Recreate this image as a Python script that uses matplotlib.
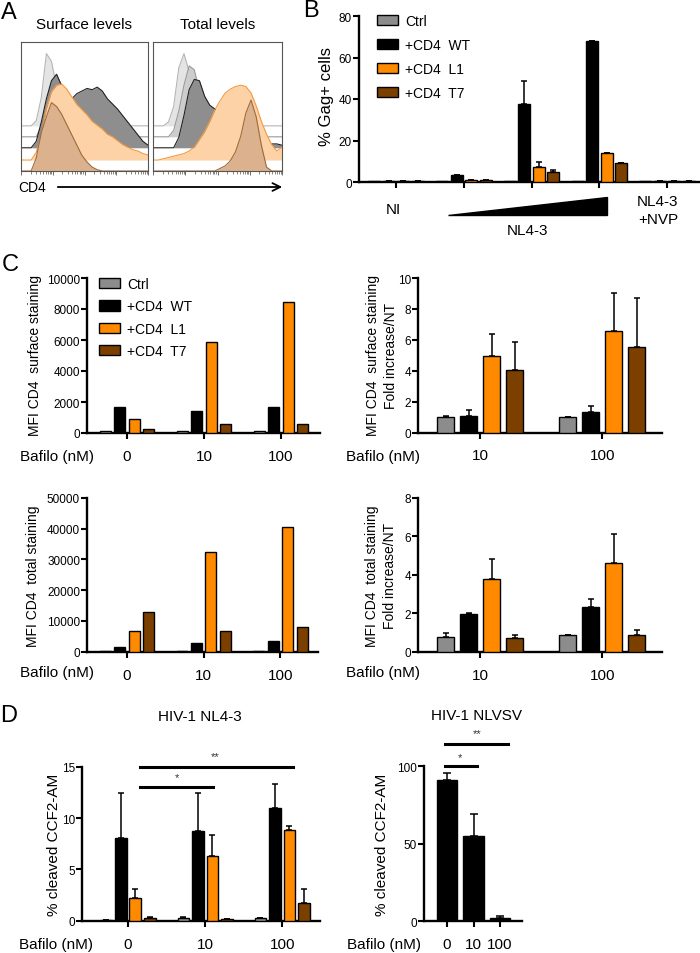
import numpy as np
import matplotlib
matplotlib.use('Agg')
import matplotlib.pyplot as plt
from matplotlib.patches import Polygon, Patch, FancyArrowPatch

plt.rcParams['font.family'] = ['Liberation Sans', 'DejaVu Sans']

# ---------------- data ----------------
series_names = ['Ctrl', '+CD4  WT', '+CD4  L1', '+CD4  T7']
colors = ['#8c8c8c', '#000000', '#ff8a00', '#7b3f00']

# A: flow histograms (channel position 0..1, height above own baseline)
hist_x = [0.00, 0.04, 0.08, 0.12, 0.16, 0.20, 0.24, 0.28, 0.32, 0.36, 0.40, 0.44, 0.48,
          0.52, 0.56, 0.60, 0.64, 0.68, 0.72, 0.76, 0.80, 0.84, 0.88, 0.92, 0.96, 1.00]
surf_light1 = [0, 0, 0, 0.04, 0.22, 0.56, 0.50, 0.30, 0.12, 0.04, 0.01, 0, 0,
               0, 0, 0, 0, 0, 0, 0, 0, 0, 0, 0, 0, 0]
surf_light2 = [0, 0, 0, 0, 0.08, 0.25, 0.42, 0.48, 0.40, 0.25, 0.12, 0.05, 0.02,
               0, 0, 0, 0, 0, 0, 0, 0, 0, 0, 0, 0, 0]
surf_dark = [0, 0, 0, 0.05, 0.20, 0.38, 0.52, 0.57, 0.48, 0.42, 0.38, 0.42, 0.44,
             0.46, 0.45, 0.47, 0.44, 0.38, 0.34, 0.30, 0.25, 0.20, 0.15, 0.10, 0.05, 0.02]
surf_orange = [0, 0, 0, 0.06, 0.20, 0.40, 0.53, 0.58, 0.59, 0.55, 0.49, 0.43, 0.39,
               0.35, 0.30, 0.27, 0.24, 0.20, 0.18, 0.15, 0.12, 0.10, 0.08, 0.07, 0.05, 0.04]
surf_brown = [0, 0, 0, 0.10, 0.30, 0.42, 0.53, 0.50, 0.44, 0.36, 0.28, 0.20, 0.12,
              0.07, 0.03, 0.01, 0, 0, 0, 0, 0, 0, 0, 0, 0, 0]
tot_light1 = [0, 0, 0, 0.03, 0.15, 0.45, 0.56, 0.42, 0.22, 0.08, 0.02, 0, 0,
              0, 0, 0, 0, 0, 0, 0, 0, 0, 0, 0, 0, 0]
tot_light2 = [0, 0, 0, 0, 0.05, 0.20, 0.40, 0.55, 0.52, 0.35, 0.20, 0.10, 0.05,
              0.02, 0, 0, 0, 0, 0, 0, 0, 0, 0, 0, 0, 0]
tot_dark = [0, 0, 0, 0, 0, 0.08, 0.25, 0.45, 0.53, 0.52, 0.40, 0.33, 0.30,
            0.27, 0.22, 0.17, 0.12, 0.09, 0.07, 0.06, 0.05, 0.04, 0.04, 0.03, 0.03, 0.02]
tot_orange = [0, 0, 0.01, 0.02, 0.03, 0.04, 0.05, 0.07, 0.10, 0.16, 0.22, 0.30, 0.39,
              0.46, 0.52, 0.55, 0.57, 0.58, 0.57, 0.52, 0.42, 0.30, 0.20, 0.12, 0.07, 0.10]
tot_brown = [0, 0, 0, 0, 0, 0, 0, 0, 0, 0, 0, 0, 0,
             0.02, 0.04, 0.08, 0.15, 0.27, 0.45, 0.55, 0.42, 0.20, 0.03, 0, 0, 0]

# B: % Gag+ cells (NI, NL4-3 low, mid, high, NL4-3+NVP)
gag_ctrl = [0.5, 0.5, 0.3, 0.5, 0.4]
gag_wt = [0.7, 3.3, 37.8, 67.8, 0.5]
gag_l1 = [0.3, 1.0, 7.3, 13.8, 0.4]
gag_t7 = [0.6, 1.0, 4.8, 9.0, 0.4]
gag_wt_err = [0, 0, 11.0, 0, 0]
gag_l1_err = [0, 0, 2.5, 0, 0]
gag_t7_err = [0, 0, 1.0, 0, 0]

# C: bafilomycin doses
bafilo = ['0', '10', '100']
surf_mfi_ctrl = [100, 100, 100]
surf_mfi_wt = [1650, 1400, 1700]
surf_mfi_l1 = [900, 5900, 8450]
surf_mfi_t7 = [250, 550, 550]

bafilo_fold = ['10', '100']
surf_fold_ctrl = [1.0, 1.0]
surf_fold_wt = [1.1, 1.3]
surf_fold_l1 = [4.95, 6.6]
surf_fold_t7 = [4.05, 5.55]
surf_fold_err = [[0.05, 0.0], [0.35, 0.4], [1.4, 2.45], [1.8, 3.15]]

tot_mfi_ctrl = [200, 200, 200]
tot_mfi_wt = [1400, 2700, 3500]
tot_mfi_l1 = [6600, 32300, 40700]
tot_mfi_t7 = [12800, 6800, 7900]

tot_fold_ctrl = [0.75, 0.85]
tot_fold_wt = [1.95, 2.35]
tot_fold_l1 = [3.8, 4.6]
tot_fold_t7 = [0.72, 0.88]
tot_fold_err = [[0.2, 0.0], [0.05, 0.4], [1.05, 1.55], [0.15, 0.25]]

# D: % cleaved CCF2-AM
nl43_ctrl = [0.1, 0.3, 0.25]
nl43_wt = [8.1, 8.7, 11.0]
nl43_l1 = [2.2, 6.3, 8.85]
nl43_t7 = [0.3, 0.2, 1.75]
nl43_err = [[0, 0.05, 0.05], [4.3, 3.7, 2.3], [0.9, 2.0, 0.35], [0.1, 0, 1.35]]

vsv_vals = [91, 55, 2]
vsv_err = [5, 14, 1.5]

# ---------------- layout helpers ----------------
W, H = 700, 954
fig = plt.figure(figsize=(W / 100, H / 100), dpi=100)


def fx(x):
    return x / W


def fy(y):
    return 1 - y / H


def axes_px(l, t, r, b):
    return fig.add_axes([l / W, 1 - b / H, (r - l) / W, (b - t) / H])


def style_bar_axes(ax):
    for s in ['top', 'right']:
        ax.spines[s].set_visible(False)
    for s in ['left', 'bottom']:
        ax.spines[s].set_linewidth(1.7)
    ax.tick_params(axis='y', direction='out', length=4, width=1.5, labelsize=8.5, pad=1)
    ax.tick_params(axis='x', direction='out', length=4.5, width=1.5, labelsize=11, pad=7)


def draw_bars(ax, series, errors, slot, width):
    centers = np.arange(len(series[0]))
    for i, vals in enumerate(series):
        x = centers + (i - (len(series) - 1) / 2) * slot
        ax.bar(x, vals, width, color=colors[i], edgecolor='black', linewidth=1.0, zorder=3)
        if errors is not None and errors[i] is not None:
            up = np.array(errors[i], dtype=float)
            ax.errorbar(x, vals, yerr=[np.zeros_like(up), up], fmt='none', ecolor='black',
                        elinewidth=1.1, capsize=2.5, capthick=1.1, zorder=2)
    ax.set_xticks(centers)


def ylabel(text, x, y, size=10, **kw):
    fig.text(fx(x), fy(y), text, rotation=90, ha='center', va='center',
             multialignment='center', fontsize=size, **kw)


def legend(ax, x, y, spacing):
    handles = [Patch(facecolor=c, edgecolor='black', linewidth=1.0) for c in colors]
    ax.legend(handles, series_names, loc='upper left', bbox_to_anchor=(fx(x), fy(y)),
              bbox_transform=fig.transFigure, frameon=False, fontsize=10,
              handlelength=1.5, handleheight=0.75, handletextpad=0.5,
              labelspacing=spacing, borderaxespad=0, borderpad=0)


# ---------------- panel A ----------------
hist_styles = [('#e4e4e4', '#b5b5b5', 0.35), ('#cdcdcd', '#9a9a9a', 0.265),
               ('#8e8e8e', '#222222', 0.18), ('#fdd2a6', '#f39a45', 0.085),
               ('#dbb28d', '#9e6b3d', 0.0)]
panels_a = [((21, 43, 148, 172), [surf_light1, surf_light2, surf_dark, surf_orange, surf_brown], 'Surface levels'),
            ((153, 43, 282, 172), [tot_light1, tot_light2, tot_dark, tot_orange, tot_brown], 'Total levels')]
for (l, t, r, b), hists, title in panels_a:
    ax = axes_px(l, t, r, b)
    for k, (h, (fc, ec, base)) in enumerate(zip(hists, hist_styles)):
        top = base + np.array(h)
        ax.fill_between(hist_x, base, top, color=fc, lw=0, zorder=2 * k + 1)
        ax.plot(hist_x, top, color=ec, lw=0.8, zorder=2 * k + 2)
    ax.set_xlim(0, 1)
    ax.set_ylim(0, 1)
    ax.set_yticks([])
    dec = [0.0, 0.25, 0.5, 0.75]
    ax.set_xticks(dec + [1.0])
    ax.set_xticks([d + 0.25 * np.log10(m) for d in dec for m in range(2, 10)], minor=True)
    ax.set_xticklabels([])
    ax.tick_params(axis='x', which='major', length=3, width=0.6, color='#555555')
    ax.tick_params(axis='x', which='minor', length=2, width=0.5, color='#555555')
    for s in ax.spines.values():
        s.set_linewidth(0.8)
        s.set_color('#555555')
        s.set_zorder(20)
    fig.text(fx((l + r) / 2), fy(25), title, ha='center', va='center', fontsize=11)

fig.text(fx(32), fy(188), 'CD4', ha='center', va='center', fontsize=10)
fig.add_artist(FancyArrowPatch((fx(55), fy(188)), (fx(285), fy(188)),
                               transform=fig.transFigure, arrowstyle='->',
                               mutation_scale=14, lw=1.3, color='black'))

# ---------------- panel B ----------------
ax = axes_px(359, 17, 699, 183)
style_bar_axes(ax)
draw_bars(ax, [gag_ctrl, gag_wt, gag_l1, gag_t7],
          [None, gag_wt_err, gag_l1_err, gag_t7_err], 0.214, 0.177)
ax.set_xlim(-0.546, 4.47)
ax.set_ylim(0, 80)
ax.set_yticks([0, 20, 40, 60, 80])
ax.set_xticklabels([])
legend(ax, 377, 15, 0.72)
ylabel('% Gag+ cells', 326, 97, size=12)
fig.text(fx(393), fy(210), 'NI', ha='center', va='center', fontsize=11)
fig.text(fx(527), fy(231), 'NL4-3', ha='center', va='center', fontsize=11)
fig.text(fx(658), fy(211), 'NL4-3\n+NVP', ha='center', va='center', fontsize=11, linespacing=1.4)
fig.add_artist(Polygon([(fx(448), fy(216)), (fx(607), fy(216)), (fx(607), fy(198))],
                       closed=True, facecolor='black', edgecolor='black',
                       transform=fig.transFigure))

# ---------------- panel C ----------------
ax = axes_px(87, 279, 320, 434)
style_bar_axes(ax)
draw_bars(ax, [surf_mfi_ctrl, surf_mfi_wt, surf_mfi_l1, surf_mfi_t7], None, 0.188, 0.143)
ax.set_xlim(-0.52, 2.51)
ax.set_ylim(0, 10000)
ax.set_yticks(range(0, 10001, 2000))
ax.set_xticklabels(bafilo)
legend(ax, 99, 278, 0.6)
ylabel('MFI CD4  surface staining', 35, 356)

ax = axes_px(418, 279, 662, 433.5)
style_bar_axes(ax)
draw_bars(ax, [surf_fold_ctrl, surf_fold_wt, surf_fold_l1, surf_fold_t7], surf_fold_err, 0.1885, 0.135)
ax.set_xlim(-0.508, 1.49)
ax.set_ylim(0, 10)
ax.set_yticks(range(0, 11, 2))
ax.set_xticklabels(bafilo_fold)
ylabel('MFI CD4  surface staining\nFold increase/NT', 382, 356, linespacing=1.45)

ax = axes_px(87, 499, 318, 652.7)
style_bar_axes(ax)
draw_bars(ax, [tot_mfi_ctrl, tot_mfi_wt, tot_mfi_l1, tot_mfi_t7], None, 0.188, 0.143)
ax.set_xlim(-0.52, 2.49)
ax.set_ylim(0, 50000)
ax.set_yticks(range(0, 50001, 10000))
ax.set_xticklabels(bafilo)
ylabel('MFI CD4  total staining', 33, 576)

ax = axes_px(418, 499, 662, 652.7)
style_bar_axes(ax)
draw_bars(ax, [tot_fold_ctrl, tot_fold_wt, tot_fold_l1, tot_fold_t7], tot_fold_err, 0.1885, 0.135)
ax.set_xlim(-0.508, 1.49)
ax.set_ylim(0, 8)
ax.set_yticks(range(0, 9, 2))
ax.set_xticklabels(bafilo_fold)
ylabel('MFI CD4  total staining\nFold increase/NT', 381, 576, linespacing=1.45)

for y in [457, 673]:
    fig.text(fx(94), fy(y), 'Bafilo (nM)', ha='right', va='center', fontsize=11)
    fig.text(fx(420), fy(y), 'Bafilo (nM)', ha='right', va='center', fontsize=11)

# ---------------- panel D ----------------
ax = axes_px(82, 767.7, 320, 921.7)
style_bar_axes(ax)
draw_bars(ax, [nl43_ctrl, nl43_wt, nl43_l1, nl43_t7], nl43_err, 0.188, 0.15)
ax.set_xlim(-0.597, 2.49)
ax.set_ylim(0, 15)
ax.set_yticks([0, 5, 10, 15])
ax.set_xticklabels(bafilo)
ax.plot([0.156, 2.14], [15.0, 15.0], color='black', lw=2.2, clip_on=False)
ax.plot([0.156, 1.10], [13.0, 13.0], color='black', lw=2.2, clip_on=False)
ax.text(1.13, 15.5, '**', ha='center', va='bottom', fontsize=8, color='#333333')
ax.text(0.64, 13.5, '*', ha='center', va='bottom', fontsize=8, color='#333333')
ylabel('% cleaved CCF2-AM', 54, 845, size=11)
fig.text(fx(200), fy(717), 'HIV-1 NL4-3', ha='center', va='center', fontsize=11)

ax = axes_px(424, 767.3, 522, 922.3)
style_bar_axes(ax)
ax.bar(np.arange(len(vsv_vals)), vsv_vals, 0.755, color='black', edgecolor='black', zorder=3)
ax.errorbar(np.arange(len(vsv_vals)), vsv_vals, yerr=[np.zeros(len(vsv_err)), vsv_err],
            fmt='none', ecolor='black', elinewidth=1.1, capsize=3, capthick=1.1, zorder=2)
ax.set_xticks(np.arange(len(vsv_vals)))
ax.set_xlim(-0.868, 2.83)
ax.set_ylim(0, 100)
ax.set_yticks([0, 50, 100])
ax.set_xticklabels(bafilo)
ax.plot([-0.075, 2.30], [114.6, 114.6], color='black', lw=2.2, clip_on=False)
ax.plot([-0.075, 1.13], [100.0, 100.0], color='black', lw=2.2, clip_on=False)
ax.text(1.13, 118, '**', ha='center', va='bottom', fontsize=8, color='#333333')
ax.text(0.49, 103, '*', ha='center', va='bottom', fontsize=8, color='#333333')
ylabel('% cleaved CCF2-AM', 382, 845, size=11)
fig.text(fx(477), fy(716), 'HIV-1 NLVSV', ha='center', va='center', fontsize=11)

fig.text(fx(93), fy(945), 'Bafilo (nM)', ha='right', va='center', fontsize=11)
fig.text(fx(421), fy(945), 'Bafilo (nM)', ha='right', va='center', fontsize=11)

# panel letters
for letter, x, y in [('A', 9, 13), ('B', 311, 11), ('C', 10, 265), ('D', 9, 716)]:
    fig.text(fx(x), fy(y), letter, ha='center', va='center', fontsize=17)

fig.savefig('out.png', dpi=100)
